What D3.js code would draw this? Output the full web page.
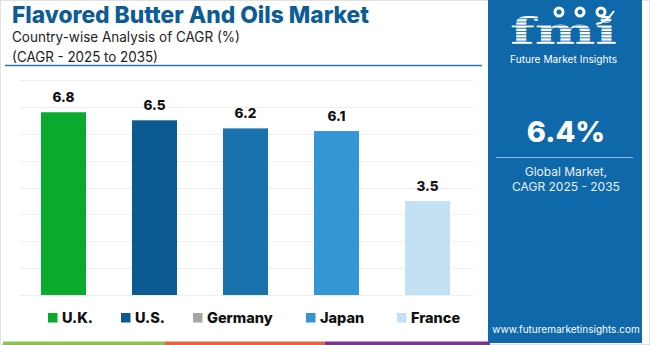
<!DOCTYPE html>
<html>
<head>
<meta charset="utf-8">
<script src="https://cdn.jsdelivr.net/npm/d3@7/dist/d3.min.js"></script>
<style>
  html, body { margin: 0; padding: 0; background: #ffffff; }
  svg { display: block; font-family: Inter, "Open Sans", "DejaVu Sans", sans-serif; }
</style>
</head>
<body>
<svg id="chart" width="650" height="345"></svg>
<script>
// ---- Data ----
const categories = ["U.K.", "U.S.", "Germany", "Japan", "France"];
const cagrValues = [6.8, 6.5, 6.2, 6.1, 3.5];
const barColors = ["#0aaa2d", "#0b5a91", "#1a72ad", "#3496d5", "#c4e1f3"];
const legendColors = ["#0aaa2d", "#0b5a91", "#a6a6a6", "#3496d5", "#c4e1f3"];
const gridTicks = [0, 1, 2, 3, 4, 5, 6, 7, 8];
const titleText = "Flavored Butter And Oils Market";
const subtitleLines = ["Country-wise Analysis of CAGR (%)", "(CAGR - 2025 to 2035)"];
const globalValue = "6.4%";
const globalLabel = ["Global Market,", "CAGR 2025 - 2035"];
const stripeColors = ["#8bc34a", "#e8633a", "#7b3294"];

const svg = d3.select("#chart");

// Outer light border
svg.append("rect").attr("x", 0.5).attr("y", 0.5).attr("width", 649).attr("height", 344)
  .attr("fill", "#ffffff").attr("stroke", "#e2e2e2");

// ---- Title block ----
svg.append("text").attr("x", 12).attr("y", 23)
  .attr("font-size", 23).attr("font-weight", 800).attr("fill", "#0d5c96")
  .attr("textLength", 357).attr("lengthAdjust", "spacingAndGlyphs")
  .text(titleText);
svg.append("text").attr("x", 12).attr("y", 42)
  .attr("font-size", 14).attr("fill", "#222")
  .attr("textLength", 228).attr("lengthAdjust", "spacingAndGlyphs")
  .text(subtitleLines[0]);
svg.append("text").attr("x", 12).attr("y", 61.5)
  .attr("font-size", 14).attr("fill", "#222")
  .attr("textLength", 146).attr("lengthAdjust", "spacingAndGlyphs")
  .text(subtitleLines[1]);
svg.append("line").attr("x1", 5).attr("x2", 482).attr("y1", 65.5).attr("y2", 65.5)
  .attr("stroke", "#2f74ad").attr("stroke-width", 1.5);

// ---- Scales ----
const x = d3.scaleBand().domain(categories).range([18, 473])
  .paddingInner(0.505).paddingOuter(0.2525);
const y = d3.scaleLinear().domain([0, 8]).range([295, 80]);

// Gridlines
svg.append("g").selectAll("line").data(gridTicks).join("line")
  .attr("x1", 20).attr("x2", 473)
  .attr("y1", d => Math.round(y(d)) + 0.5).attr("y2", d => Math.round(y(d)) + 0.5)
  .attr("stroke", "#efefef").attr("stroke-width", 1);

// Bars
svg.append("g").selectAll("rect").data(cagrValues).join("rect")
  .attr("x", (d, i) => x(categories[i]))
  .attr("y", d => y(d))
  .attr("width", x.bandwidth())
  .attr("height", d => y(0) - y(d))
  .attr("fill", (d, i) => barColors[i]);

// Value labels
svg.append("g").selectAll("text").data(cagrValues).join("text")
  .attr("x", (d, i) => x(categories[i]) + x.bandwidth() / 2)
  .attr("y", d => y(d) - 10)
  .attr("text-anchor", "middle")
  .attr("font-size", 13.5).attr("font-weight", 800).attr("fill", "#111")
  .text(d => d.toFixed(1));

// ---- Legend ----
const legendX = [48, 121, 193, 306, 397];
const lg = svg.append("g").selectAll("g").data(categories).join("g")
  .attr("transform", (d, i) => `translate(${legendX[i]},313)`);
lg.append("rect").attr("width", 9.5).attr("height", 9.5)
  .attr("fill", (d, i) => legendColors[i]);
lg.append("text").attr("x", 14).attr("y", 9.5)
  .attr("font-size", 14.5).attr("font-weight", 800).attr("fill", "#111")
  .text(d => d);

// Bottom colour stripe
const stripeW = [[3, 165], [165, 325], [325, 490]];
svg.append("g").selectAll("rect").data(stripeColors).join("rect")
  .attr("x", (d, i) => stripeW[i][0]).attr("y", 341.5)
  .attr("width", (d, i) => stripeW[i][1] - stripeW[i][0]).attr("height", 3.5)
  .attr("fill", d => d);

// ---- Right panel ----
const panelX = 488, panelW = 154;
svg.append("rect").attr("x", panelX).attr("y", 0).attr("width", panelW).attr("height", 343)
  .attr("fill", "#0f68aa");

// Logo
const logo = svg.append("g");
logo.append("text").attr("x", 510).attr("y", 44)
  .attr("font-family", "'DejaVu Serif', serif").attr("font-size", 37).attr("font-weight", 700)
  .attr("fill", "#ffffff").attr("textLength", 107).attr("lengthAdjust", "spacingAndGlyphs")
  .text("fmi");
// stripes across logo letters
const stripeYs = d3.range(15, 45, 3.2);
logo.selectAll("rect.s").data(stripeYs).join("rect").attr("class", "s")
  .attr("x", 505).attr("y", d => d).attr("width", 118).attr("height", 1)
  .attr("fill", "#0f68aa").attr("opacity", 0.85);
// icons above letters
[[559, 12], [580, 12], [601, 12]].forEach(([cx, cy]) => {
  logo.append("circle").attr("cx", cx).attr("cy", cy).attr("r", 5.5).attr("fill", "#ffffff");
  logo.append("circle").attr("cx", cx).attr("cy", cy).attr("r", 2.5).attr("fill", "#0f68aa");
});
logo.append("path").attr("d", "M596,24 Q606,23 614,11").attr("fill", "none")
  .attr("stroke", "#ffffff").attr("stroke-width", 2);
logo.append("text").attr("x", 510).attr("y", 63)
  .attr("font-size", 10).attr("fill", "#ffffff")
  .attr("textLength", 107).attr("lengthAdjust", "spacingAndGlyphs")
  .text("Future Market Insights");

// Global value
const pcx = 566;
svg.append("text").attr("x", pcx).attr("y", 142).attr("text-anchor", "middle")
  .attr("font-size", 29).attr("font-weight", 800).attr("fill", "#ffffff")
  .text(globalValue);
svg.append("line").attr("x1", 496).attr("x2", 633).attr("y1", 157.5).attr("y2", 157.5)
  .attr("stroke", "#8cbde3").attr("stroke-width", 1.2);
svg.append("g").selectAll("text").data(globalLabel).join("text")
  .attr("x", pcx).attr("y", (d, i) => 176 + i * 15).attr("text-anchor", "middle")
  .attr("font-size", 12).attr("fill", "#e8f1f8")
  .text(d => d);
svg.append("text").attr("x", pcx).attr("y", 333).attr("text-anchor", "middle")
  .attr("font-size", 10).attr("fill", "#ffffff")
  .text("www.futuremarketinsights.com");
</script>
</body>
</html>
